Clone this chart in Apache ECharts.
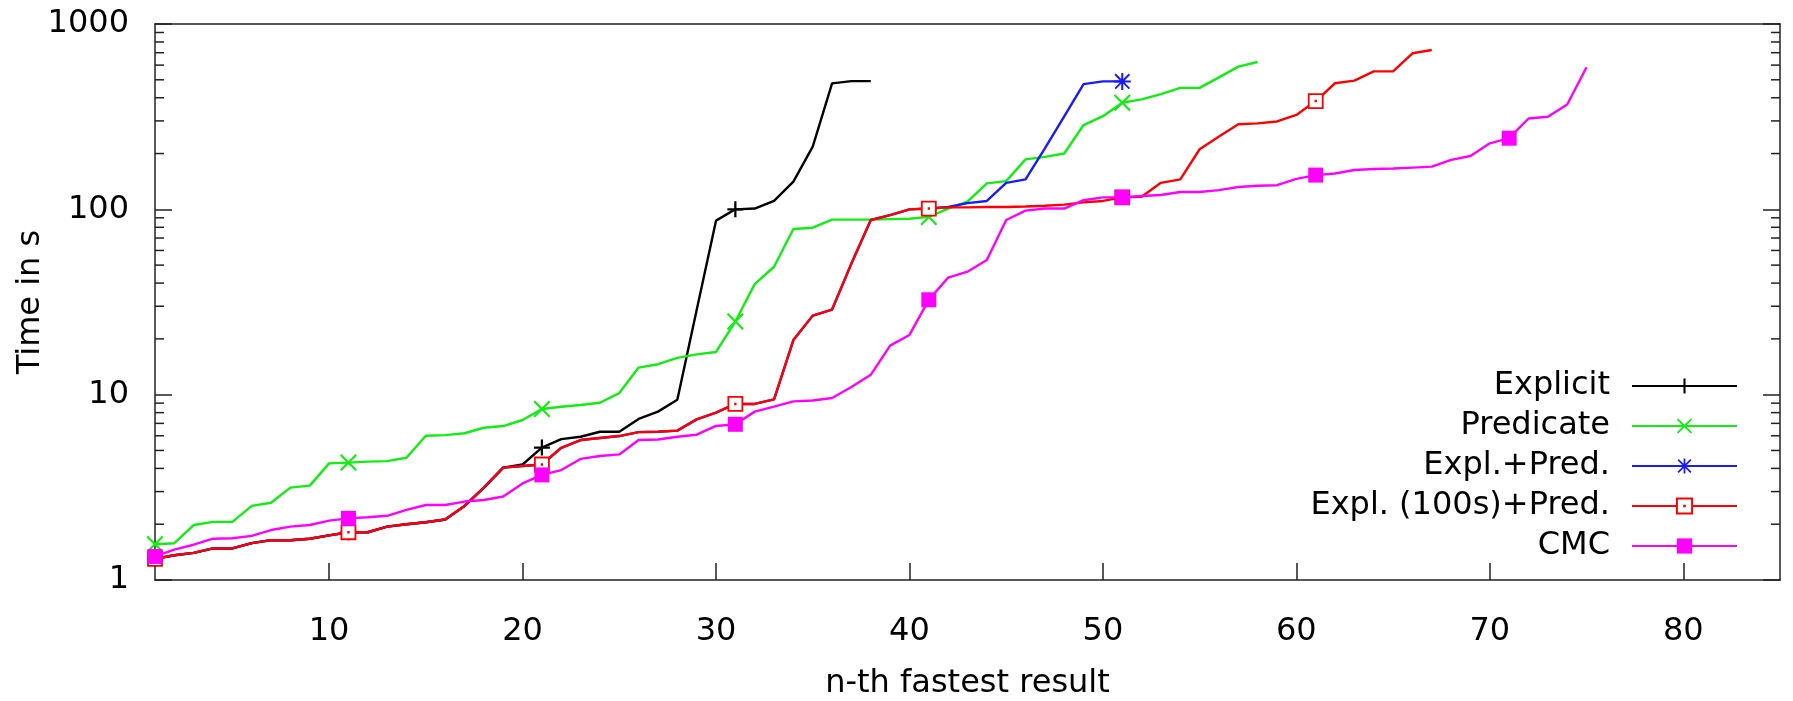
<!DOCTYPE html>
<html>
<head>
<meta charset="utf-8">
<script src="https://cdn.jsdelivr.net/npm/echarts@6/dist/echarts.min.js"></script>
<style>
html,body{margin:0;padding:0;background:#fff;}
#chart{width:1793px;height:701px;}
</style>
</head>
<body>
<div id="chart"></div>
<script>
// ---- data (x = 1..N, n-th fastest result; y = time in s) ----
const seriesNames = ['Explicit', 'Predicate', 'Expl.+Pred.', 'Expl. (100s)+Pred.', 'CMC'];
const explicitTimes = [1.3,1.36,1.40,1.48,1.48,1.58,1.64,1.64,1.67,1.74,1.81,1.81,1.94,2.0,2.05,2.12,2.51,3.15,4.04,4.2,
  5.18,5.76,5.93,6.31,6.31,7.4,8.1,9.4,28.6,86.9,100,101,111,141,218,478,492,492];
const predicateTimes = [1.56,1.58,1.98,2.06,2.06,2.51,2.61,3.15,3.23,4.26,4.3,4.35,4.38,4.57,6.0,6.05,6.19,6.63,6.77,7.3,
  8.37,8.6,8.8,9.05,10.2,14.0,14.6,15.8,16.5,17.0,24.8,39.5,49,78.3,79.6,88,88,88,88.5,89,
  91,101,110,138,142,186,192,200,285,318,376,392,418,452,452,515,589,624];
const explPredTimes = [1.3,1.36,1.40,1.48,1.48,1.58,1.64,1.64,1.67,1.74,1.81,1.81,1.94,2.0,2.05,2.12,2.51,3.15,4.04,4.12,
  4.2,5.17,5.69,5.84,5.98,6.28,6.31,6.4,7.36,8.0,8.91,8.91,9.44,19.7,26.7,28.8,51,87.6,93,100,
  101,103,108,111,139,145,213,317,474,490,490];
const expl100PredTimes = [1.3,1.36,1.40,1.48,1.48,1.58,1.64,1.64,1.67,1.74,1.81,1.81,1.94,2.0,2.05,2.12,2.51,3.15,4.04,4.12,
  4.2,5.17,5.69,5.84,5.98,6.28,6.31,6.4,7.36,8.0,8.91,8.91,9.44,19.7,26.7,28.8,51,87.6,93,100,
  101,102.5,102.5,103,103,103.5,104.6,106,109,111,116,117,139,145,211,247,288,291,298,323,
  384,479,495,555,555,695,724];
const cmcTimes = [1.34,1.46,1.55,1.67,1.68,1.73,1.86,1.94,1.98,2.09,2.15,2.18,2.22,2.39,2.54,2.54,2.65,2.70,2.82,3.32,
  3.69,3.92,4.5,4.67,4.76,5.69,5.73,5.93,6.08,6.78,6.92,8.1,8.62,9.2,9.3,9.6,11.0,12.8,18.4,21.0,
  32.5,42.8,46.1,53.3,87.6,98.4,101,101,112,116,116,118,119.5,124,124,127,132,134,135,146,
  153,156,163,165,166,168,170,185,194,227,242,309,316,368,584];
const xTickValues = [10, 20, 30, 40, 50, 60, 70, 80];
const yMinorTicks = [2,3,4,5,6,7,8,9,20,30,40,50,60,70,80,90,200,300,400,500,600,700,800,900];

// ---- styling ----
const FONT = 'DejaVu Sans';
const X_MIN = 1, X_MAX = 85;
const frameColor = '#222';
const PLUS = 'path://M43,0 H57 V43 H100 V57 H57 V100 H43 V57 H0 V43 H43 Z';
const CROSS = 'path://M0,9 L9,0 L50,41 L91,0 L100,9 L59,50 L100,91 L91,100 L50,59 L9,100 L0,91 L41,50 Z';
const STAR = 'path://M44,0 H56 V44 H100 V56 H56 V100 H44 V56 H0 V44 H44 Z M4,12 L12,4 L50,42 L88,4 L96,12 L58,50 L96,88 L88,96 L50,58 L12,96 L4,88 L42,50 Z';
const BOXDOT = 'path://M0,0 H100 V100 H0 Z M48,48 H52 V52 H48 Z';

function toPoints(arr) { return arr.map((v, i) => [i + 1, v]); }
function sizer(indices, size) {
  return function (val, params) { return indices.indexOf(params.dataIndex) >= 0 ? size : 0; };
}

const styles = [
  { data: explicitTimes, color: '#000000', symbol: PLUS, size: 16, marks: [0,10,20,30] },
  { data: predicateTimes, color: '#11ee11', symbol: CROSS, size: 17, marks: [0,10,20,30,40,50] },
  { data: explPredTimes, color: '#1a1aff', symbol: STAR, size: 17, marks: [50] },
  { data: expl100PredTimes, color: '#ff0000', symbol: BOXDOT, size: 14, marks: [0,10,20,30,40,50,60], hollow: true },
  { data: cmcTimes, color: '#ff00ff', symbol: 'rect', size: 15, marks: [0,10,20,30,40,50,60,70] }
];

const lineSeries = styles.map((s, k) => ({
  name: seriesNames[k],
  type: 'line',
  data: toPoints(s.data),
  symbol: s.symbol,
  symbolSize: sizer(s.marks, s.size),
  showSymbol: true,
  showAllSymbol: true,
  lineStyle: { color: s.color, width: 2.4 },
  itemStyle: s.hollow ? { color: '#ffffff', borderColor: s.color, borderWidth: 1.8 } : { color: s.color },
  emphasis: { disabled: true },
  z: 3 + k
}));

const minorTickSeries = {
  type: 'custom',
  data: yMinorTicks.map(v => [X_MIN, v]),
  silent: true,
  clip: false,
  z: 10,
  renderItem: function (params, api) {
    const v = api.value(1);
    const l = api.coord([X_MIN, v]);
    const r = api.coord([X_MAX, v]);
    const st = { stroke: frameColor, lineWidth: 1.5 };
    return {
      type: 'group',
      children: [
        { type: 'line', shape: { x1: l[0], y1: l[1], x2: l[0] + 9, y2: l[1] }, style: st },
        { type: 'line', shape: { x1: r[0], y1: r[1], x2: r[0] - 9, y2: r[1] }, style: st }
      ]
    };
  }
};

const axisLineStyle = { color: frameColor, width: 1.5 };
const labelText = { color: '#000', fontFamily: FONT, fontSize: 32 };

const option = {
  animation: false,
  backgroundColor: '#ffffff',
  grid: { left: 155, right: 13, top: 24, bottom: 121, containLabel: false, outerBoundsMode: 'none' },
  legend: {
    data: seriesNames,
    orient: 'vertical',
    align: 'right',
    right: 55,
    top: 366,
    padding: 0,
    itemGap: 0,
    itemWidth: 105,
    itemHeight: 19,
    selectedMode: false,
    textStyle: { color: '#000', fontFamily: FONT, fontSize: 32, lineHeight: 40, padding: [0, 17, 0, 0] }
  },
  xAxis: [
    {
      type: 'value', min: X_MIN, max: X_MAX, position: 'bottom',
      name: 'n-th fastest result', nameLocation: 'middle', nameGap: 88, nameMoveOverlap: false,
      nameTextStyle: labelText,
      axisLine: { show: true, lineStyle: axisLineStyle },
      axisTick: { show: true, inside: true, length: 17, customValues: xTickValues, lineStyle: axisLineStyle },
      axisLabel: { show: true, customValues: xTickValues, margin: 36, ...labelText },
      splitLine: { show: false }
    },
    {
      type: 'value', min: X_MIN, max: X_MAX, position: 'top',
      axisLine: { show: true, lineStyle: axisLineStyle },
      axisTick: { show: false }, axisLabel: { show: false }, splitLine: { show: false }
    }
  ],
  yAxis: [
    {
      type: 'log', logBase: 10, min: 1, max: 1000, position: 'left',
      name: 'Time in s', nameLocation: 'middle', nameRotate: 90, nameGap: 108, nameMoveOverlap: false,
      nameTextStyle: labelText,
      axisLine: { show: true, lineStyle: axisLineStyle },
      axisTick: { show: true, inside: true, length: 17, lineStyle: axisLineStyle },
      axisLabel: { show: true, margin: 26, formatter: function (v) { return String(Math.round(v)); }, ...labelText },
      splitLine: { show: false }, minorTick: { show: false }
    },
    {
      type: 'log', logBase: 10, min: 1, max: 1000, position: 'right',
      axisLine: { show: true, lineStyle: axisLineStyle },
      axisTick: { show: true, inside: true, length: 17, lineStyle: axisLineStyle },
      axisLabel: { show: false }, splitLine: { show: false }
    }
  ],
  series: lineSeries.concat([minorTickSeries])
};

const chart = echarts.init(document.getElementById('chart'), null, { renderer: 'canvas' });
chart.setOption(option);
</script>
</body>
</html>
